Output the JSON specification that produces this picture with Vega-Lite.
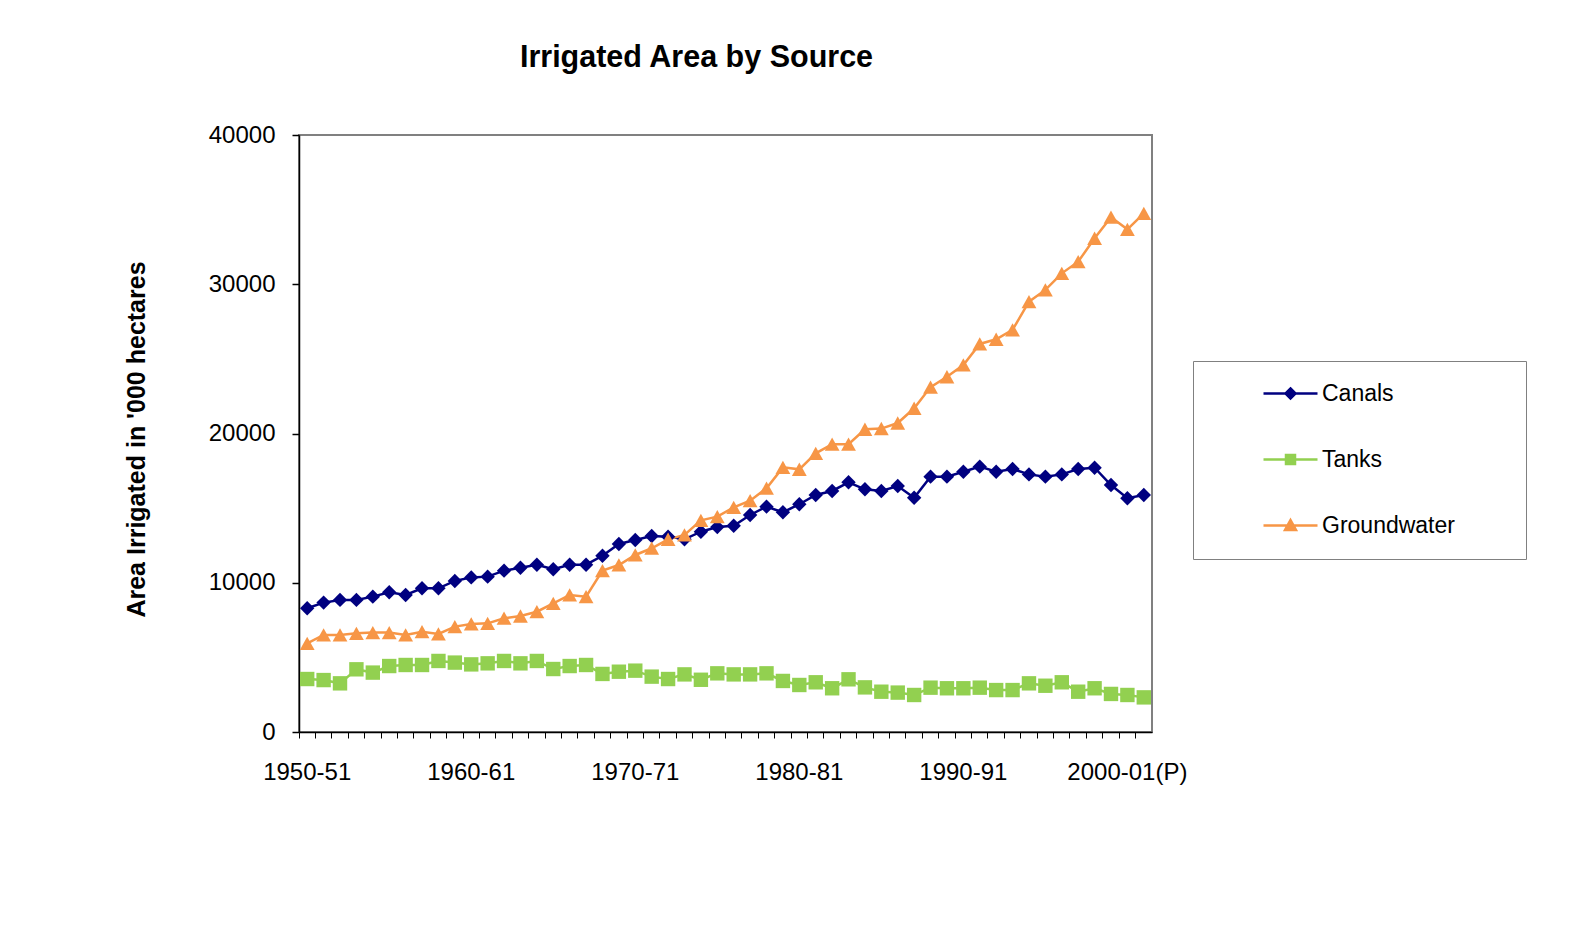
{
  "$schema": "https://vega.github.io/schema/vega-lite/v6.json",
  "width": 853,
  "height": 597,
  "autosize": {"type": "none"},
  "padding": {"left": 299, "top": 135, "right": 438, "bottom": 204},
  "background": "white",
  "title": {"text": "Irrigated Area by Source", "fontSize": 30.5, "font": "Liberation Sans", "fontWeight": "bold", "color": "black", "anchor": "middle", "dx": -29, "baseline": "alphabetic", "offset": 26},
  "config": {"view": {"stroke": "#808080", "strokeWidth": 2}, "font": "Liberation Sans"},
  "data": {"values": [
    {"year": "1950-51", "Canals": 8290, "Tanks": 3550, "Groundwater": 5940},
    {"year": "1951-52", "Canals": 8670, "Tanks": 3480, "Groundwater": 6500},
    {"year": "1952-53", "Canals": 8850, "Tanks": 3260, "Groundwater": 6500},
    {"year": "1953-54", "Canals": 8850, "Tanks": 4200, "Groundwater": 6610},
    {"year": "1954-55", "Canals": 9070, "Tanks": 3980, "Groundwater": 6660},
    {"year": "1955-56", "Canals": 9360, "Tanks": 4420, "Groundwater": 6660},
    {"year": "1956-57", "Canals": 9180, "Tanks": 4490, "Groundwater": 6500},
    {"year": "1957-58", "Canals": 9630, "Tanks": 4490, "Groundwater": 6720},
    {"year": "1958-59", "Canals": 9630, "Tanks": 4760, "Groundwater": 6570},
    {"year": "1959-60", "Canals": 10120, "Tanks": 4650, "Groundwater": 7060},
    {"year": "1960-61", "Canals": 10360, "Tanks": 4530, "Groundwater": 7240},
    {"year": "1961-62", "Canals": 10410, "Tanks": 4600, "Groundwater": 7280},
    {"year": "1962-63", "Canals": 10810, "Tanks": 4760, "Groundwater": 7620},
    {"year": "1963-64", "Canals": 11010, "Tanks": 4600, "Groundwater": 7770},
    {"year": "1964-65", "Canals": 11210, "Tanks": 4760, "Groundwater": 8060},
    {"year": "1965-66", "Canals": 10900, "Tanks": 4220, "Groundwater": 8620},
    {"year": "1966-67", "Canals": 11210, "Tanks": 4420, "Groundwater": 9180},
    {"year": "1967-68", "Canals": 11210, "Tanks": 4490, "Groundwater": 9070},
    {"year": "1968-69", "Canals": 11810, "Tanks": 3890, "Groundwater": 10810},
    {"year": "1969-70", "Canals": 12600, "Tanks": 4040, "Groundwater": 11190},
    {"year": "1970-71", "Canals": 12860, "Tanks": 4110, "Groundwater": 11860},
    {"year": "1971-72", "Canals": 13130, "Tanks": 3710, "Groundwater": 12310},
    {"year": "1972-73", "Canals": 13090, "Tanks": 3550, "Groundwater": 12910},
    {"year": "1973-74", "Canals": 12910, "Tanks": 3860, "Groundwater": 13200},
    {"year": "1974-75", "Canals": 13420, "Tanks": 3500, "Groundwater": 14180},
    {"year": "1975-76", "Canals": 13730, "Tanks": 3930, "Groundwater": 14430},
    {"year": "1976-77", "Canals": 13820, "Tanks": 3860, "Groundwater": 15050},
    {"year": "1977-78", "Canals": 14540, "Tanks": 3860, "Groundwater": 15500},
    {"year": "1978-79", "Canals": 15100, "Tanks": 3930, "Groundwater": 16330},
    {"year": "1979-80", "Canals": 14720, "Tanks": 3420, "Groundwater": 17730},
    {"year": "1980-81", "Canals": 15260, "Tanks": 3150, "Groundwater": 17600},
    {"year": "1981-82", "Canals": 15880, "Tanks": 3330, "Groundwater": 18670},
    {"year": "1982-83", "Canals": 16150, "Tanks": 2930, "Groundwater": 19280},
    {"year": "1983-84", "Canals": 16730, "Tanks": 3530, "Groundwater": 19280},
    {"year": "1984-85", "Canals": 16260, "Tanks": 2990, "Groundwater": 20280},
    {"year": "1985-86", "Canals": 16150, "Tanks": 2700, "Groundwater": 20330},
    {"year": "1986-87", "Canals": 16480, "Tanks": 2640, "Groundwater": 20700},
    {"year": "1987-88", "Canals": 15700, "Tanks": 2480, "Groundwater": 21690},
    {"year": "1988-89", "Canals": 17110, "Tanks": 2970, "Groundwater": 23110},
    {"year": "1989-90", "Canals": 17110, "Tanks": 2930, "Groundwater": 23800},
    {"year": "1990-91", "Canals": 17440, "Tanks": 2930, "Groundwater": 24590},
    {"year": "1991-92", "Canals": 17780, "Tanks": 2970, "Groundwater": 26000},
    {"year": "1992-93", "Canals": 17440, "Tanks": 2810, "Groundwater": 26310},
    {"year": "1993-94", "Canals": 17620, "Tanks": 2810, "Groundwater": 26940},
    {"year": "1994-95", "Canals": 17260, "Tanks": 3260, "Groundwater": 28830},
    {"year": "1995-96", "Canals": 17110, "Tanks": 3100, "Groundwater": 29620},
    {"year": "1996-97", "Canals": 17260, "Tanks": 3330, "Groundwater": 30730},
    {"year": "1997-98", "Canals": 17620, "Tanks": 2700, "Groundwater": 31510},
    {"year": "1998-99", "Canals": 17710, "Tanks": 2930, "Groundwater": 33080},
    {"year": "1999-00", "Canals": 16550, "Tanks": 2550, "Groundwater": 34490},
    {"year": "2000-01(P)", "Canals": 15660, "Tanks": 2480, "Groundwater": 33680},
    {"year": "2001-02(P)", "Canals": 15880, "Tanks": 2320, "Groundwater": 34750}
  ]},
  "transform": [{"fold": ["Canals", "Tanks", "Groundwater"], "as": ["source", "area"]}],
  "layer": [
    {
      "mark": {"type": "line", "strokeWidth": 2.5, "clip": false},
      "encoding": {
        "x": {"field": "year", "type": "ordinal", "sort": null, "bandPosition": 0.5,
          "scale": {"type": "band", "paddingInner": 0, "paddingOuter": 0},
          "axis": {"orient": "bottom", "bandPosition": 0, "labels": false, "ticks": true, "tickSize": 6, "tickColor": "black", "tickWidth": 1, "domain": true, "domainColor": "black", "domainWidth": 1.5, "grid": false, "title": null}},
        "y": {"field": "area", "type": "quantitative", "scale": {"domain": [0, 40000], "nice": false},
          "axis": {"values": [0, 10000, 20000, 30000, 40000], "format": "d", "tickSize": 7, "tickColor": "black", "tickWidth": 1.5, "domainColor": "black", "domainWidth": 1.5, "grid": false, "labelFontSize": 24, "labelFont": "Liberation Sans", "labelColor": "black", "labelPadding": 17, "title": "Area Irrigated in '000 hectares", "titleFont": "Liberation Sans", "titleFontSize": 25, "titleFontWeight": "bold", "titleColor": "black", "titlePadding": 59, "titleY": 304}},
        "color": {"field": "source", "type": "nominal", "scale": {"domain": ["Canals", "Tanks", "Groundwater"], "range": ["#000080", "#92D050", "#F79646"]}, "legend": null}
      }
    },
    {
      "mark": {"type": "point", "filled": true, "opacity": 1, "size": 400, "clip": false},
      "encoding": {
        "x": {"field": "year", "type": "ordinal", "sort": null, "bandPosition": 0.5,
          "scale": {"type": "band", "paddingInner": 0, "paddingOuter": 0},
          "axis": {"orient": "bottom", "values": ["1950-51", "1960-61", "1970-71", "1980-81", "1990-91", "2000-01(P)"], "bandPosition": 0.5, "ticks": false, "tickSize": 0, "domain": false, "labelPadding": 28, "labelFontSize": 24, "labelFont": "Liberation Sans", "labelColor": "black", "labelAngle": 0, "labelOverlap": false, "grid": false, "title": null}},
        "y": {"field": "area", "type": "quantitative"},
        "color": {"field": "source", "type": "nominal", "scale": {"domain": ["Canals", "Tanks", "Groundwater"], "range": ["#000080", "#92D050", "#F79646"]}, "legend": null},
        "shape": {"field": "source", "type": "nominal", "scale": {"domain": ["Canals", "Tanks", "Groundwater"], "range": ["M0,-0.72L0.72,0L0,0.72L-0.72,0Z", "M-0.72,-0.72L0.72,-0.72L0.72,0.72L-0.72,0.72Z", "M0,-0.67L0.74,0.66L-0.74,0.66Z"]}, "legend": null}
      }
    },
    {
      "transform": [{"filter": "false"}],
      "mark": {"type": "point", "filled": true, "opacity": 1, "size": 400, "strokeWidth": 2.5},
      "encoding": {
        "fill": {"field": "source", "type": "nominal", "scale": {"domain": ["Canals", "Tanks", "Groundwater"], "range": ["#000080", "#92D050", "#F79646"]},
          "legend": {"orient": "none", "legendX": 894, "legendY": 226, "title": null, "padding": 21, "rowPadding": 42, "labelOffset": 20, "symbolOffset": 65, "symbolSize": 400, "symbolStrokeWidth": 2.5, "symbolOpacity": 1, "labelFontSize": 23, "labelFont": "Liberation Sans", "labelColor": "black", "labelLimit": 400, "strokeColor": "#808080", "fillColor": "white", "direction": "vertical"}},
        "stroke": {"field": "source", "type": "nominal", "scale": {"domain": ["Canals", "Tanks", "Groundwater"], "range": ["#000080", "#92D050", "#F79646"]},
          "legend": {"orient": "none", "legendX": 894, "legendY": 226, "title": null, "padding": 21, "rowPadding": 42, "labelOffset": 20, "symbolOffset": 65, "symbolSize": 400, "symbolStrokeWidth": 2.5, "symbolOpacity": 1, "labelFontSize": 23, "labelFont": "Liberation Sans", "labelColor": "black", "labelLimit": 400, "strokeColor": "#808080", "fillColor": "white", "direction": "vertical"}},
        "shape": {"field": "source", "type": "nominal", "scale": {"domain": ["Canals", "Tanks", "Groundwater"], "range": ["M-2.7,0L2.7,0M0,-0.5L0.5,0L0,0.5L-0.5,0ZM20.9,0", "M-2.7,0L2.7,0M-0.45,-0.45L0.45,-0.45L0.45,0.45L-0.45,0.45ZM20.9,0", "M-2.7,0L2.7,0M0,-0.55L0.55,0.45L-0.55,0.45ZM20.9,0"]},
          "legend": {"orient": "none", "legendX": 894, "legendY": 226, "title": null, "padding": 21, "rowPadding": 42, "labelOffset": 20, "symbolOffset": 65, "symbolSize": 400, "symbolStrokeWidth": 2.5, "symbolOpacity": 1, "labelFontSize": 23, "labelFont": "Liberation Sans", "labelColor": "black", "labelLimit": 400, "strokeColor": "#808080", "fillColor": "white", "direction": "vertical"}}
      }
    }
  ],
  "resolve": {"axis": {"x": "independent"}, "scale": {"shape": "independent", "fill": "independent", "stroke": "independent"}}
}
